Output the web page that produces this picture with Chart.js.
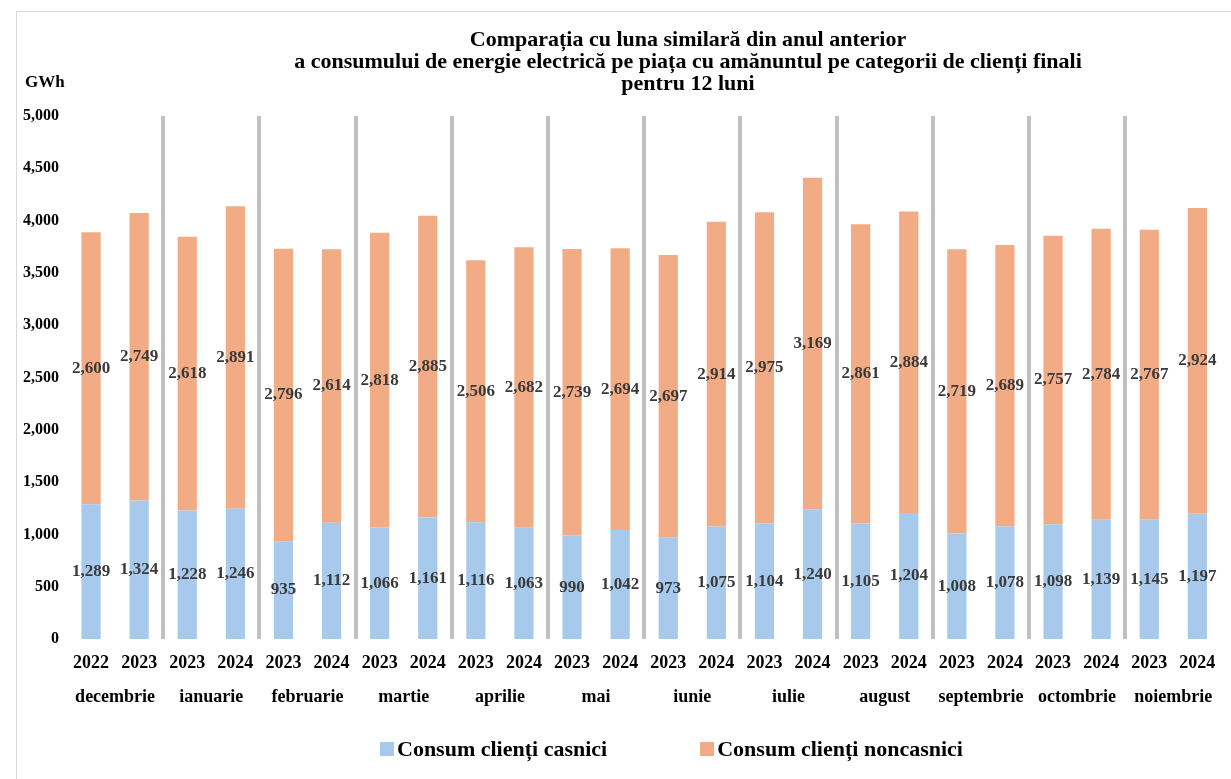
<!DOCTYPE html>
<html>
<head>
<meta charset="utf-8">
<script src="https://cdn.jsdelivr.net/npm/chart.js@4.4.1/dist/chart.umd.min.js"></script>
<style>
  html, body { margin: 0; padding: 0; background: #fff; overflow: hidden; }
  body { width: 1231px; height: 779px; position: relative; font-family: "Liberation Serif", "Times New Roman", serif; }
  .frame { position: absolute; left: 16px; top: 11px; width: 1400px; height: 900px; border: 1px solid #d9d9d9; }
  .title { position: absolute; left: 188px; width: 1000px; top: 28px; text-align: center; font-weight: bold; font-size: 22px; line-height: 22px; color: #000; }
  .unit { position: absolute; left: 25px; top: 72px; font-weight: bold; font-size: 17px; color: #000; }
  #wrap { position: absolute; left: 0; top: 0; width: 1231px; height: 779px; }
  .legend { position: absolute; left: 380px; top: 736px; display: flex; font-weight: bold; font-size: 22px; color: #000; }
  .legend span { display: flex; align-items: center; }
  .legend i { display: inline-block; width: 14px; height: 14px; margin-right: 3px; }
</style>
</head>
<body>
<div class="frame"></div>
<div id="wrap"><canvas id="consumChart" width="1231" height="779"></canvas></div>
<div class="title">Comparația cu luna similară din anul anterior<br>a consumului de energie electrică pe piața cu amănuntul pe categorii de clienți finali<br>pentru 12 luni</div>
<div class="unit">GWh</div>
<div class="legend">
  <span><i style="background:#a7caec"></i>Consum clienți casnici</span>
  <span style="margin-left:93px"><i style="background:#f2ac85"></i>Consum clienți noncasnici</span>
</div>
<script>
// ani pentru fiecare bara (perechi an anterior / an curent)
const years = ['2022', '2023', '2023', '2024', '2023', '2024', '2023', '2024', '2023', '2024', '2023', '2024',
  '2023', '2024', '2023', '2024', '2023', '2024', '2023', '2024', '2023', '2024', '2023', '2024'];

const months = ['decembrie', 'ianuarie', 'februarie', 'martie', 'aprilie', 'mai',
  'iunie', 'iulie', 'august', 'septembrie', 'octombrie', 'noiembrie'];

// consum clienti casnici (GWh)
const casnici = [1289, 1324, 1228, 1246, 935, 1112, 1066, 1161, 1116, 1063, 990, 1042,
  973, 1075, 1104, 1240, 1105, 1204, 1008, 1078, 1098, 1139, 1145, 1197];

// consum clienti noncasnici (GWh)
const noncasnici = [2600, 2749, 2618, 2891, 2796, 2614, 2818, 2885, 2506, 2682, 2739, 2694,
  2697, 2914, 2975, 3169, 2861, 2884, 2719, 2689, 2757, 2784, 2767, 2924];

const fmt = v => v.toLocaleString('en-US');
const serif = '"Liberation Serif", "Times New Roman", serif';

// etichete cu valorile, in mijlocul fiecarui segment
const valueLabels = {
  id: 'valueLabels',
  afterDatasetsDraw(chart) {
    const ctx = chart.ctx;
    ctx.save();
    ctx.font = 'bold 17px ' + serif;
    ctx.fillStyle = '#3a3a3a';
    ctx.textAlign = 'center';
    ctx.textBaseline = 'middle';
    chart.data.datasets.forEach((ds, i) => {
      chart.getDatasetMeta(i).data.forEach((bar, j) => {
        ctx.fillText(fmt(ds.data[j]), bar.x, (bar.y + bar.base) / 2);
      });
    });
    ctx.restore();
  }
};

new Chart(document.getElementById('consumChart'), {
  type: 'bar',
  data: {
    labels: years,
    datasets: [
      { label: 'Consum clienți casnici', data: casnici, backgroundColor: '#a7caec' },
      { label: 'Consum clienți noncasnici', data: noncasnici, backgroundColor: '#f2ac85' }
    ]
  },
  options: {
    responsive: false,
    animation: false,
    layout: { padding: { left: 15, right: 7, top: 116, bottom: 73 } },
    datasets: { bar: { barPercentage: 0.4, categoryPercentage: 1 } },
    plugins: {
      legend: { display: false },
      tooltip: { enabled: false }
    },
    scales: {
      x: {
        stacked: true,
        border: { display: false },
        grid: {
          drawTicks: false,
          lineWidth: 4,
          color: c => (c.index > 0 && c.index % 2 === 0) ? '#c0c0c0' : 'rgba(0,0,0,0)'
        },
        ticks: { color: '#000', padding: 15.5, font: { family: serif, size: 18, weight: 'bold', lineHeight: 1 }, maxRotation: 0, autoSkip: false }
      },
      x2: {
        type: 'category',
        labels: months,
        offset: true,
        position: 'bottom',
        border: { display: false },
        grid: { display: false, drawTicks: false },
        ticks: { color: '#000', padding: 0, font: { family: serif, size: 18, weight: 'bold', lineHeight: 1 }, maxRotation: 0, autoSkip: false }
      },
      y: {
        stacked: true,
        min: 0,
        max: 5000,
        border: { display: false },
        grid: { display: false, drawTicks: false },
        ticks: { stepSize: 500, color: '#000', padding: 8, font: { family: serif, size: 16, weight: 'bold' }, callback: v => fmt(v) }
      }
    }
  },
  plugins: [valueLabels]
});
</script>
</body>
</html>
